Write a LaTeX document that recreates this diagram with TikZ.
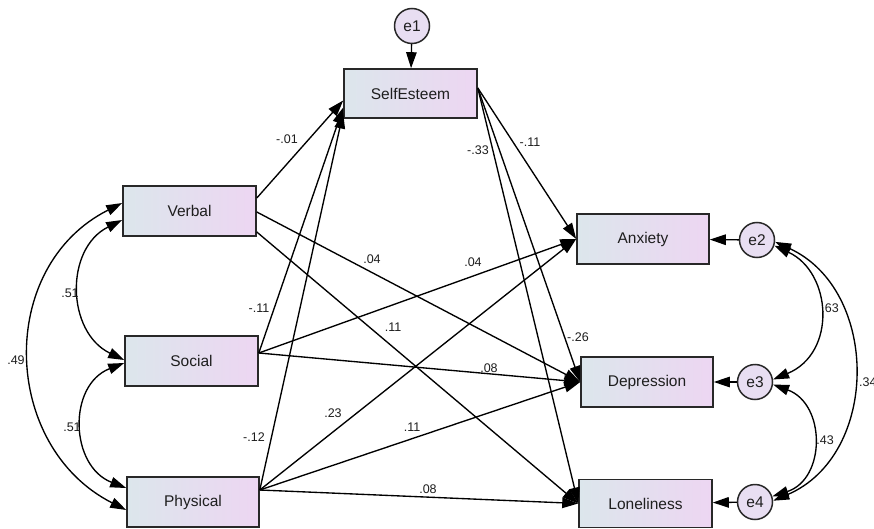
\documentclass[tikz,border=0pt]{standalone}
\usepackage{fontspec}
\setmainfont{Liberation Sans}
\usetikzlibrary{arrows.meta}
\definecolor{boxL}{RGB}{220,230,236}
\definecolor{boxR}{RGB}{237,214,242}
\definecolor{circF}{RGB}{232,222,242}
\definecolor{edgeC}{RGB}{40,40,40}
\definecolor{txtC}{RGB}{30,30,30}
\begin{document}
\begin{tikzpicture}[x=1pt,y=-1pt,
  var/.style={draw=edgeC, line width=1.6pt, left color=boxL, right color=boxR,
    inner sep=0pt, font=\fontsize{15.5}{18}\selectfont, text=txtC},
  err/.style={circle, draw=edgeC, line width=1.5pt, fill=circF, minimum size=35pt,
    inner sep=0pt, font=\fontsize{15.5}{18}\selectfont, text=txtC},
  pth/.style={line width=1.35pt, -{Triangle[length=16pt,width=10.5pt]}},
  cov/.style={line width=1.35pt, {Triangle[length=16pt,width=10.5pt]}-{Triangle[length=16pt,width=10.5pt]}},
  lbl/.style={font=\fontsize{12.5}{14}\selectfont, text=txtC, inner sep=0pt}
]
\useasboundingbox (0,0) rectangle (874,529);
\fill[white] (0,0) rectangle (874,529);

% observed variables
\node[var, minimum width=133pt, minimum height=49pt] (SE) at (410.5,93.5) {SelfEsteem};
\node[var, minimum width=133pt, minimum height=50pt] (Verbal) at (189.5,211) {Verbal};
\node[var, minimum width=133pt, minimum height=50pt] (Social) at (191.5,361) {Social};
\node[var, minimum width=132pt, minimum height=50pt] (Physical) at (193,502) {Physical};
\node[var, minimum width=132pt, minimum height=50pt] (Anx) at (643,239) {Anxiety};
\node[var, minimum width=132pt, minimum height=50pt] (Dep) at (647,382) {Depression};
\node[var, minimum width=133pt, minimum height=48pt] (Lon) at (645.5,503.5) {Loneliness};

% error terms
\node[err] (e1) at (412,26) {e1};
\node[err] (e2) at (757,240) {e2};
\node[err] (e3) at (755,382) {e3};
\node[err] (e4) at (755,502) {e4};

% error paths
\draw[pth] (e1) -- (SE);
\draw[pth] (e2) -- (Anx);
\draw[pth] (e3) -- (Dep);
\draw[pth] (e4) -- (Lon);

% predictors -> SelfEsteem
\draw[pth] ([yshift=13pt]Verbal.east) -- ([yshift=-7pt]SE.west);
\draw[pth] ([yshift=8pt]Social.east) -- ([yshift=-14pt]SE.west);
\draw[pth] ([yshift=12pt]Physical.east) -- ([yshift=-19pt]SE.west);

% Verbal -> outcomes
\draw[pth] ([yshift=-1pt]Verbal.east) -- (Dep.west);
\draw[pth] ([yshift=-21pt]Verbal.east) -- (Lon.west);

% Social -> outcomes
\draw[pth] ([yshift=8pt]Social.east) -- (Anx.west);
\draw[pth] ([yshift=8pt]Social.east) -- (Dep.west);

% Physical -> outcomes
\draw[pth] ([yshift=12pt]Physical.east) -- (Anx.west);
\draw[pth] ([yshift=12pt]Physical.east) -- (Dep.west);
\draw[pth] ([yshift=12pt]Physical.east) -- (Lon.west);

% SelfEsteem -> outcomes
\draw[pth] ([yshift=5.5pt]SE.east) -- (Anx.west);
\draw[pth] ([yshift=5.5pt]SE.east) -- (Dep.west);
\draw[pth] ([yshift=5.5pt]SE.east) -- (Lon.west);

% covariances left
\draw[cov] ([yshift=-9pt]Verbal.west) .. controls (64.4,248.7) and (66.4,332.3) .. ([yshift=1pt]Social.west);
\draw[cov] ([yshift=-2pt]Social.west) .. controls (67.6,385) and (69.6,466) .. ([yshift=14pt]Physical.west);
\draw[cov] ([yshift=8pt]Verbal.west) .. controls (-4,266.5) and (1,446.5) .. ([yshift=-8pt]Physical.west);

% covariances right
\draw[cov] (e2.-18) .. controls (832,272.6) and (837,353) .. (e3.8);
\draw[cov] (e3.-8) .. controls (826,404) and (826,479) .. (e4.18);
\draw[cov] (e2.-6) .. controls (880,290) and (880,455) .. (e4.4);

% labels
\node[lbl] (l01) at (287,139) {-.01};
\node[lbl] (l33) at (478,150) {-.33};
\node[lbl] (l11a) at (530,142) {-.11};
\node[lbl] (l04a) at (372,259) {.04};
\node[lbl] (l04b) at (473,262) {.04};
\node[lbl] (l11b) at (259,308) {-.11};
\node[lbl] (l12) at (254,437) {-.12};
\node[lbl] (l51a) at (70,293) {.51};
\node[lbl] (l51b) at (72,427) {.51};
\node[lbl] (l49) at (16,360) {.49};
\node[lbl] (l11c) at (393,327) {.11};
\node[lbl] (l26) at (578,337) {-.26};
\node[lbl] (l08a) at (489,368) {.08};
\node[lbl] (l23) at (333,413) {.23};
\node[lbl] (l11d) at (412,427) {.11};
\node[lbl] (l08b) at (428,489) {.08};
\node[lbl] (l63) at (830,308) {.63};
\node[lbl] (l43) at (825,440) {.43};
\node[lbl, anchor=west] (l34) at (859,382) {.34};
\end{tikzpicture}
\end{document}
